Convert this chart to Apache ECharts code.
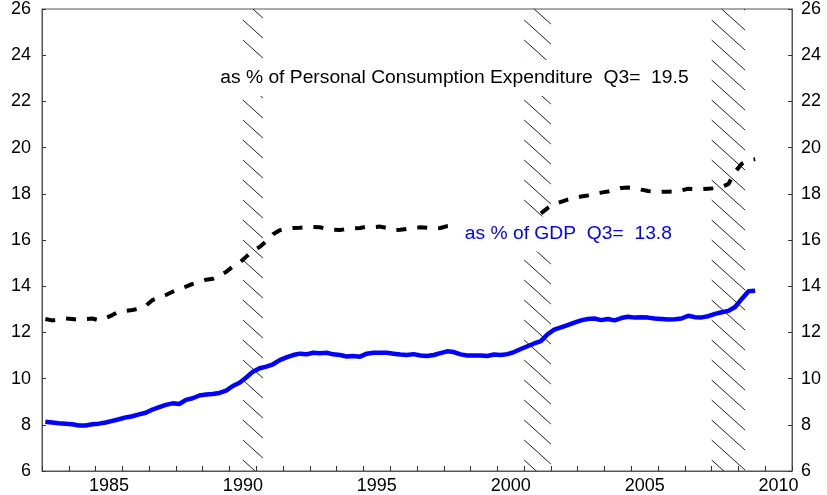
<!DOCTYPE html>
<html>
<head>
<meta charset="utf-8">
<script src="https://cdn.jsdelivr.net/npm/echarts@6/dist/echarts.min.js"></script>
<style>
  html, body { margin: 0; padding: 0; background: #fff; }
  #chart { width: 827px; height: 495px; }
</style>
</head>
<body>
<div id="chart"></div>
<script>
// ---- Data (quarterly, 1983Q1 .. 2009Q3) ----
const startYear = 1983;
const gdpShare = [
  8.13, 8.10, 8.07, 8.05,
  8.02, 7.97, 7.97, 8.02,
  8.05, 8.10, 8.17, 8.24,
  8.32, 8.37, 8.45, 8.52,
  8.66, 8.76, 8.86, 8.93,
  8.90, 9.08, 9.15, 9.27,
  9.31, 9.33, 9.38, 9.48,
  9.68, 9.82, 10.05, 10.30,
  10.45, 10.52, 10.62, 10.80,
  10.92, 11.02, 11.08, 11.05,
  11.12, 11.10, 11.12, 11.05,
  11.02, 10.96, 10.98, 10.95,
  11.08, 11.12, 11.12, 11.12,
  11.08, 11.04, 11.02, 11.06,
  11.00, 10.98, 11.02, 11.10,
  11.18, 11.15, 11.05, 11.00,
  11.00, 11.00, 10.98, 11.04,
  11.02, 11.06, 11.15, 11.28,
  11.40, 11.52, 11.62, 11.92,
  12.12, 12.22, 12.32, 12.42,
  12.52, 12.58, 12.60, 12.53,
  12.58, 12.52, 12.62, 12.68,
  12.64, 12.66, 12.64, 12.60,
  12.58, 12.56, 12.57, 12.60,
  12.72, 12.66, 12.65, 12.70,
  12.80, 12.87, 12.93, 13.10,
  13.45, 13.78, 13.80
];
const pceShare = [
  12.58, 12.52, 12.55, 12.60,
  12.58, 12.55, 12.58, 12.60,
  12.52, 12.62, 12.75, 12.90,
  12.93, 12.97, 13.03, 13.15,
  13.40, 13.52, 13.62, 13.76,
  13.88, 13.98, 14.10, 14.18,
  14.28, 14.32, 14.45, 14.62,
  14.85, 15.02, 15.28, 15.55,
  15.70, 15.95, 16.25, 16.42,
  16.48, 16.52, 16.53, 16.55,
  16.56, 16.55, 16.48, 16.44,
  16.43, 16.48, 16.50, 16.52,
  16.58, 16.56, 16.58, 16.52,
  16.43, 16.44, 16.48, 16.52,
  16.55, 16.53, 16.49, 16.52,
  16.60, 16.62, 16.62, 16.62,
  16.63, 16.65, 16.68, 16.72,
  16.75, 16.78, 16.82, 16.85,
  16.88, 16.96, 17.15, 17.38,
  17.55, 17.65, 17.75, 17.82,
  17.88, 17.93, 18.00, 18.05,
  18.10, 18.18, 18.25, 18.27,
  18.25, 18.18, 18.12, 18.10,
  18.09, 18.09, 18.10, 18.15,
  18.22, 18.20, 18.20, 18.22,
  18.24, 18.30, 18.42, 18.95,
  19.30, 19.45, 19.50
];
// Recession bands (start, end in fractional years)
const recessions = [
  [1990.5, 1991.25],
  [2001.0, 2002.0],
  [2008.0, 2009.25]
];
const yTicks = { min: 6, max: 26, step: 2 };
const xRange = { min: 1983, max: 2011 };
const pceLabel = 'as % of Personal Consumption Expenditure  Q3=  19.5';
const gdpLabel = 'as % of GDP  Q3=  13.8';

// ---- Build ----
function qx(i) { return startYear + Math.floor(i / 4) + ((i % 4) + 0.5) / 4; }
const gdpData = gdpShare.map((v, i) => [qx(i), v]);
const pceData = pceShare.map((v, i) => [qx(i), v]);

const FONT = '"Liberation Sans", Arial, sans-serif';
const axisColor = '#555';

const chart = echarts.init(document.getElementById('chart'), null, { renderer: 'canvas' });

function hatchRender(params, api) {
  const cs = params.coordSys;
  const top = cs.y, bottom = cs.y + cs.height;
  const xL = api.coord([api.value(0), yTicks.min])[0];
  const xR = api.coord([api.value(1), yTicks.min])[0];
  const w = xR - xL;
  const s = 0.9;       // slope (dy/dx)
  const step = 20;     // vertical spacing
  const children = [];
  for (let yL = top + 11 - Math.ceil((s * w + 11) / step) * step; yL < bottom; yL += step) {
    let x0 = xL, y0 = yL, x1 = xR, y1 = yL + s * w;
    if (y0 < top) { x0 = xL + (top - yL) / s; y0 = top; }
    if (y1 > bottom) { x1 = xR - (y1 - bottom) / s; y1 = bottom; }
    if (x1 <= x0) continue;
    children.push({
      type: 'line',
      shape: { x1: x0, y1: y0, x2: x1, y2: y1 },
      style: { stroke: '#222', lineWidth: 1 }
    });
  }
  return { type: 'group', children };
}

const option = {
  animation: false,
  backgroundColor: '#fff',
  grid: {
    left: 42, right: 35, top: 9, bottom: 24,
    show: true, borderColor: axisColor, borderWidth: 1, backgroundColor: 'transparent'
  },
  xAxis: [
    {
      type: 'value', min: xRange.min, max: xRange.max, interval: 1,
      position: 'bottom',
      axisLine: { show: true, lineStyle: { color: axisColor } },
      axisTick: { show: true, inside: true, length: 5, lineStyle: { color: '#333' } },
      axisLabel: { show: false },
      splitLine: { show: false }
    },
    {
      type: 'value', min: xRange.min - 0.5, max: xRange.max - 0.5, interval: 2.5,
      position: 'bottom',
      axisLine: { show: false },
      axisTick: { show: false },
      splitLine: { show: false },
      axisLabel: {
        show: true, margin: 6, fontSize: 18, fontFamily: FONT, color: '#000',
        formatter: v => (Math.abs(v % 5) < 1e-6 ? String(Math.round(v)) : '')
      }
    }
  ],
  yAxis: [
    {
      type: 'value', min: yTicks.min, max: yTicks.max, interval: yTicks.step,
      position: 'left',
      axisLine: { show: true, lineStyle: { color: axisColor } },
      axisTick: { show: true, inside: true, length: 4, lineStyle: { color: '#333' } },
      axisLabel: { margin: 11, fontSize: 18, fontFamily: FONT, color: '#000' },
      splitLine: { show: false }
    },
    {
      type: 'value', min: yTicks.min, max: yTicks.max, interval: yTicks.step,
      position: 'right',
      axisLine: { show: true, lineStyle: { color: axisColor } },
      axisTick: { show: true, inside: true, length: 4, lineStyle: { color: '#333' } },
      axisLabel: { margin: 9, fontSize: 18, fontFamily: FONT, color: '#000' },
      splitLine: { show: false }
    }
  ],
  series: [
    {
      type: 'custom',
      name: 'recessions',
      xAxisIndex: 0, yAxisIndex: 0,
      renderItem: hatchRender,
      data: recessions.map(r => [r[0], r[1], yTicks.min, yTicks.max]),
      encode: { x: [0, 1], y: [2, 3] },
      silent: true, z: 1
    },
    {
      type: 'line', name: 'PCE',
      xAxisIndex: 0, yAxisIndex: 0,
      data: pceData, showSymbol: false, z: 3,
      lineStyle: { color: '#000', width: 4, type: [10, 11], cap: 'butt' }
    },
    {
      type: 'line', name: 'GDP',
      xAxisIndex: 0, yAxisIndex: 0,
      data: gdpData, showSymbol: false, z: 4,
      lineStyle: { color: '#0000ff', width: 4.5 }
    }
  ],
  graphic: [
    {
      type: 'text', x: 217, y: 78, scaleX: 1.07, z: 100,
      style: {
        text: pceLabel, fill: '#000', font: '18px ' + FONT,
        textAlign: 'left', textVerticalAlign: 'middle',
        backgroundColor: '#fff', padding: [9, 3]
      }
    },
    {
      type: 'text', x: 453, y: 234, scaleX: 1.07, z: 100,
      style: {
        text: gdpLabel, fill: '#0000ff', font: '18px ' + FONT,
        textAlign: 'left', textVerticalAlign: 'middle',
        backgroundColor: '#fff', padding: [9, 11, 8, 11]
      }
    }
  ]
};
chart.setOption(option);
</script>
</body>
</html>
